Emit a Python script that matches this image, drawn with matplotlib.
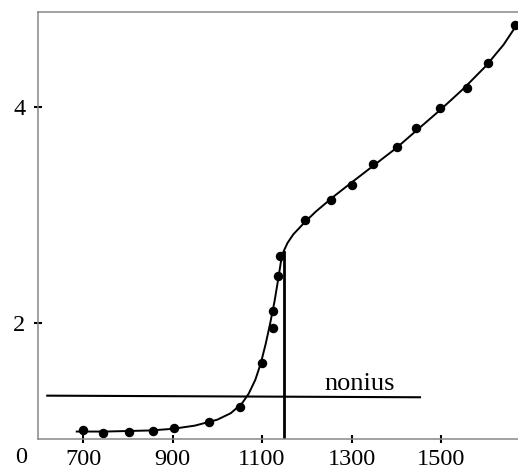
#!/usr/bin/env python3
import matplotlib
matplotlib.use('Agg')
import matplotlib.pyplot as plt

# measured points
x_pts = [700, 745, 803, 856, 904, 982, 1051, 1099, 1124, 1125, 1135, 1141,
         1195, 1253, 1302, 1349, 1401, 1445, 1498, 1559, 1604, 1666]
y_pts = [1.00, 0.98, 0.986, 0.995, 1.02, 1.076, 1.22, 1.63, 2.11, 1.95, 2.43, 2.62,
         2.95, 3.14, 3.28, 3.47, 3.63, 3.81, 3.99, 4.18, 4.41, 4.76]

# fitted curve
x_curve = [686, 750, 800, 850, 900, 950, 1000, 1030, 1055, 1070, 1085, 1097,
           1108, 1118, 1128, 1136, 1142, 1148, 1157, 1170, 1195, 1220, 1260,
           1300, 1350, 1400, 1450, 1500, 1550, 1600, 1640, 1672]
y_curve = [0.99, 0.99, 0.995, 1.0, 1.015, 1.045, 1.10, 1.16, 1.25, 1.34, 1.47, 1.62,
           1.80, 1.99, 2.20, 2.40, 2.56, 2.66, 2.74, 2.82, 2.93, 3.03, 3.17,
           3.30, 3.46, 3.62, 3.80, 3.98, 4.17, 4.38, 4.58, 4.78]

# nonius line and marker line
nonius_x = [620, 1453]
nonius_y = [1.323, 1.308]
vline_x = 1148
vline_top = 2.66

xticks = [700, 900, 1100, 1300, 1500]
yticks = [2, 4]

plt.rcParams['font.family'] = ['Liberation Serif', 'DejaVu Serif']

fig = plt.figure(figsize=(5.18, 4.69), dpi=100)
ax = fig.add_axes([0.0734, 0.064, 0.9266, 0.9104])

ax.plot(x_curve, y_curve, color='black', lw=1.4, solid_joinstyle='round')
ax.plot(x_pts, y_pts, 'o', color='black', ms=5.8)
ax.plot(nonius_x, nonius_y, color='black', lw=1.5)
ax.plot([vline_x, vline_x], [0.921, vline_top], color='black', lw=2.0)
ax.text(1319, 1.376, 'nonius', fontsize=19, ha='center', va='baseline')

ax.set_xlim(599.4, 1672)
ax.set_ylim(0.921, 4.882)
ax.set_xticks(xticks)
ax.set_yticks(yticks)
ax.tick_params(direction='inout', length=6, width=1.5, labelsize=17.5,
               color='black')
ax.tick_params(axis='x', pad=4)
ax.tick_params(axis='y', pad=6)

for s in ['left', 'top', 'bottom']:
    ax.spines[s].set_color('#888888')
    ax.spines[s].set_linewidth(1.1)
ax.spines['right'].set_visible(False)

fig.text(21 / 518, 1 - 457 / 469, '0', fontsize=17.5, ha='center', va='center')

fig.savefig('out.png', dpi=100)
